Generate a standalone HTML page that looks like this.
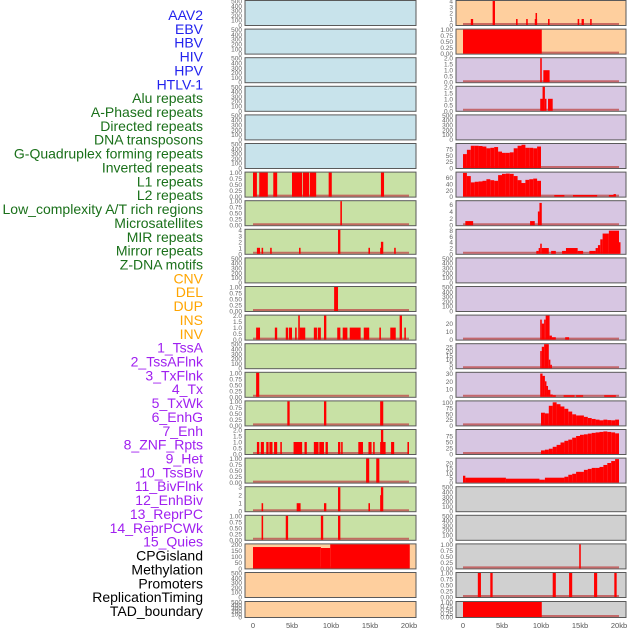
<!DOCTYPE html>
<html><head><meta charset="utf-8"><style>
body{margin:0;background:#fff;}
svg{display:block;font-family:"Liberation Sans",sans-serif;}
</style></head><body>
<svg id="chart" width="630" height="630" viewBox="0 0 630 630"></svg>
<script>
// ---- labels ----
const labels = ["AAV2","EBV","HBV","HIV","HPV","HTLV-1","Alu repeats","A-Phased repeats","Directed repeats","DNA transposons","G-Quadruplex forming repeats","Inverted repeats","L1 repeats","L2 repeats","Low_complexity A/T rich regions","Microsatellites","MIR repeats","Mirror repeats","Z-DNA motifs","CNV","DEL","DUP","INS","INV","1_TssA","2_TssAFlnk","3_TxFlnk","4_Tx","5_TxWk","6_EnhG","7_Enh","8_ZNF_Rpts","9_Het","10_TssBiv","11_BivFlnk","12_EnhBiv","13_ReprPC","14_ReprPCWk","15_Quies","CPGisland","Methylation","Promoters","ReplicationTiming","TAD_boundary"];
const labelColors = ["#2222ee","#2222ee","#2222ee","#2222ee","#2222ee","#2222ee","#1a701a","#1a701a","#1a701a","#1a701a","#1a701a","#1a701a","#1a701a","#1a701a","#1a701a","#1a701a","#1a701a","#1a701a","#1a701a","#ffa500","#ffa500","#ffa500","#ffa500","#ffa500","#a020f0","#a020f0","#a020f0","#a020f0","#a020f0","#a020f0","#a020f0","#a020f0","#a020f0","#a020f0","#a020f0","#a020f0","#a020f0","#a020f0","#a020f0","#000","#000","#000","#000","#000"];
const xTicks = [0,5,10,15,20];
const xTickLabels = ["0","5kb","10kb","15kb","20kb"];

// ---- left column segments [startKb, endKb, value] ----
const L07 = [[0,0.5,1],[0.8,1.9,1],[2.6,3.1,1],[5.0,6.3,1],[6.4,7.2,1],[7.3,8.1,1],[9.7,10.1,1],[16.4,16.8,1]];
const L08 = [[11.2,11.4,1]];
const L09 = [[0.5,0.9,1],[1.1,1.3,1],[2.2,2.4,1],[5.9,6.1,1],[10.9,11.2,4],[14.8,15.0,1],[16.3,16.5,1],[16.4,16.7,2],[18.1,18.3,1]];
const L11 = [[10.4,10.9,1]];
const L12 = [[0.4,0.9,1],[2.8,3.1,1],[4.2,4.5,1],[4.6,5.0,1],[5.4,5.6,1],[5.8,6.0,2],[6.0,6.7,1],[7.8,8.2,1],[8.3,8.7,1],[9.1,9.4,2],[10.8,11.2,1],[11.5,12.1,1],[12.4,13.8,1],[14.2,14.9,1],[16.2,16.4,1],[17.6,18.3,1],[18.8,19.1,2],[19.4,19.6,1]];
const L14 = [[0.4,0.8,1]];
const L15 = [[4.4,4.7,1],[9.1,9.4,1],[16.3,16.7,1]];
const L16 = [[0.5,0.8,1],[1.0,1.4,1],[1.7,2.0,1],[2.1,2.5,1],[2.7,3.1,1],[3.5,3.7,1],[5.2,6.3,1],[6.6,6.9,1],[7.8,8.4,1],[8.5,9.1,1],[9.3,9.6,1],[10.9,11.2,1],[11.3,11.5,1],[13.5,14.1,1],[14.8,15.2,1],[15.4,15.6,1],[16.3,17.0,1],[16.4,16.7,2],[17.7,18.1,1],[19.8,20.0,1]];
const L17 = [[14.5,14.9,1],[15.8,16.2,1]];
const L18 = [[1.1,1.3,1],[5.6,6.1,1],[9.1,9.4,1],[10.9,11.2,3],[14.8,15.0,1],[16.3,16.5,2],[16.4,16.7,3]];
const L19 = [[1.1,1.3,1],[4.2,4.5,1],[8.7,9.0,1],[10.9,11.2,1]];
const L20 = [[0,8.7,178],[8.7,9.9,170],[9.9,20.1,200]];

// ---- right column ----
const R01 = [[1.0,1.3,1],[3.8,4.1,4],[6.8,7.0,1],[8.1,8.3,1],[9.2,9.5,1],[9.3,9.4,2],[10.9,11.1,1],[14.7,14.9,1],[15.2,15.5,1],[16.3,16.5,1]];
const R02 = [[0,10.1,1]];
const R03 = [[9.9,10.1,2],[10.3,11.1,1]];
const R04 = [[9.9,10.3,1],[10.2,10.5,2],[10.5,10.7,1],[10.9,11.5,1]];
const R06bins = [55,72,88,88,87,85,78,80,83,65,60,60,62,78,88,92,80,80,78,85];
const R07bins = [75,65,45,47,48,50,55,52,50,68,72,73,72,65,52,43,53,55,57,50];
const R07 = [[11.7,13.0,5],[14.1,17.2,5],[18.7,19.3,5],[19.3,19.6,8]];
const R08 = [[0.3,1.3,1.2],[8.6,9.2,1.2],[9.6,9.8,4],[9.8,10.1,6.5]];
const R09 = [[9.4,9.7,1],[9.7,9.9,2],[9.9,10.1,3.5],[10.1,11.0,2],[11.3,11.9,1],[12.7,13.2,1],[13.2,14.7,2],[14.7,15.4,1],[16.2,17.0,1],[17.0,17.3,2],[17.3,17.6,3],[17.6,17.9,5],[17.9,18.7,7],[18.7,20.0,8],[20.0,20.15,4]];
const R12 = [[9.9,10.1,25],[10.1,10.4,20],[10.4,10.6,25],[10.6,11.1,30],[11.1,11.4,5],[11.4,11.9,3],[13.1,13.6,3]];
const R13 = [[9.9,10.1,20],[10.1,10.4,25],[10.4,11.0,28],[11.0,11.2,10],[11.2,11.4,4]];
const R14 = [[9.9,10.2,30],[10.2,10.5,27],[10.5,10.7,20],[10.7,10.9,14],[10.9,11.2,9],[11.2,11.5,3],[11.5,11.9,2],[12.9,14.3,2],[14.5,15.4,2],[18.1,19.6,2]];
const R15bins = [55,52,85,100,92,82,72,60,48,43,43,37,32,28,25,22,25,23,22,25];
const R16bins = [15,18,22,30,38,48,55,60,68,75,80,82,85,88,90,92,94,92,90,86];
const R17 = [[0,0.3,7],[0.3,5.5,5],[5.5,9.8,4],[9.8,10.5,3],[10.5,13,5]];
const R17bins = [6,8,9,11,11,13,14,15,15,16,18,20,22,24];
const R20 = [[14.9,15.1,1]];
const R21 = [[1.9,2.3,1],[3.5,3.8,1],[11.5,11.9,1],[13.6,14.0,1],[16.8,17.2,1],[19.4,19.7,1]];
const R22 = [[0,10.1,1]];

function bins(start, vals){ return vals.map((v,i)=>[start+i*0.5, start+(i+1)*0.5, v]); }

const T500=[0,100,200,300,400,500], T1=["0.00","0.25","0.50","0.75","1.00"];
const BLUE="#c8e3eb", GREEN="#c8e1a5", ORANGE="#fecf9e", PURPLE="#d7c6e2", GRAY="#d0d0d0";
const left = [
 [BLUE,[],500,T500],[BLUE,[],500,T500],[BLUE,[],500,T500],[BLUE,[],500,T500],[BLUE,[],500,T500],[BLUE,[],500,T500],
 [GREEN,L07,1,T1],[GREEN,L08,1,T1],[GREEN,L09,4,[0,1,2,3,4]],[GREEN,[],500,T500],[GREEN,L11,1,T1],
 [GREEN,L12,2,["0.0","0.5","1.0","1.5","2.0"]],[GREEN,[],500,T500],[GREEN,L14,1,T1],[GREEN,L15,1,T1],
 [GREEN,L16,2,["0.0","0.5","1.0","1.5","2.0"]],[GREEN,L17,1,T1],[GREEN,L18,3,[0,1,2,3]],[GREEN,L19,1,T1],
 [ORANGE,L20,200,[0,50,100,150,200]],[ORANGE,[],500,T500],[ORANGE,[],500,T500]];
const right = [
 [ORANGE,R01,4,[0,1,2,3,4]],[ORANGE,R02,1,T1],[PURPLE,R03,2,["0.0","0.5","1.0","1.5","2.0"]],[PURPLE,R04,2,["0.0","0.5","1.0","1.5","2.0"]],
 [PURPLE,[],500,T500],[PURPLE,bins(0,R06bins),95,[0,25,50,75]],[PURPLE,bins(0,R07bins).concat(R07),76,[0,20,40,60]],
 [PURPLE,R08,7,[0,2,4,6]],[PURPLE,R09,8.3,[0,2,4,6,8]],[PURPLE,[],500,T500],[PURPLE,[],500,T500],
 [PURPLE,R12,30,[0,10,20]],[PURPLE,R13,28,[0,5,10,15,20,25]],[PURPLE,R14,31,[0,10,20,30]],
 [PURPLE,bins(10,R15bins),104,[0,25,50,75,100]],[PURPLE,bins(10,R16bins),100,[0,25,50,75]],
 [PURPLE,R17.concat(bins(13,R17bins)),24.5,[0,5,10,15,20]],
 [GRAY,[],500,T500],[GRAY,[],500,T500],[GRAY,R20,1,T1],[GRAY,R21,1,T1],[GRAY,R22,1,T1]];

const NS="http://www.w3.org/2000/svg";
const svg=document.getElementById('chart');
function mk(tag,attrs,parent){const e=document.createElementNS(NS,tag);for(const k in attrs)e.setAttribute(k,attrs[k]);(parent||svg).appendChild(e);return e;}

labels.forEach((t,i)=>{
  const e=mk('text',{x:203,y:20+i*13.86,'text-anchor':'end','font-size':14,fill:labelColors[i]});
  
  
  e.textContent=t;
});

function drawCol(panels, px0, px1, x0, x1, tickX, colName){
  const xs=kb=>x0+(x1-x0)*kb/20;
  panels.forEach((p,i)=>{
    const [bg,segs,ymax,ticks]=p;
    const top = i<21 ? i*28.6 : 601;
    const h = i<21 ? 25 : 16;
    const g=mk('g',{});
    
    
    mk('rect',{x:px0,y:top+0.5,width:px1-px0,height:h,fill:bg,stroke:'#5a5a5a','stroke-width':1},g);
    const bot=top+0.5+h-0.5, ph=h-1;
    const ys=v=>bot-ph*v/ymax;
    if(segs.length||ymax!==500) mk('line',{x1:x0,x2:x1,y1:bot-1,y2:bot-1,stroke:'#c05050','stroke-width':2,opacity:0.8},g);
    segs.forEach(s=>{
      const r=mk('rect',{x:xs(s[0]),y:ys(s[2]),width:Math.max(1.5,xs(s[1])-xs(s[0])),height:bot-ys(s[2]),fill:'#ff0000'},g);
      
      
    });
    ticks.forEach(t=>{
      const v=parseFloat(t);
      const e=mk('text',{x:tickX,y:ys(v)+2.5,'text-anchor':'end','font-size':6.5,fill:'#666'},g);
      
      
      e.textContent=t;
    });
  });
  xTicks.forEach((t,j)=>{
    const e=mk('text',{x:xs(t),y:628,'text-anchor':'middle','font-size':7.5,fill:'#555'});
    
    
    e.textContent=xTickLabels[j];
  });
}
drawCol(left,245,416,253,409,242,'left');
drawCol(right,456,626,463,619,453,'right');
</script>
</body></html>
